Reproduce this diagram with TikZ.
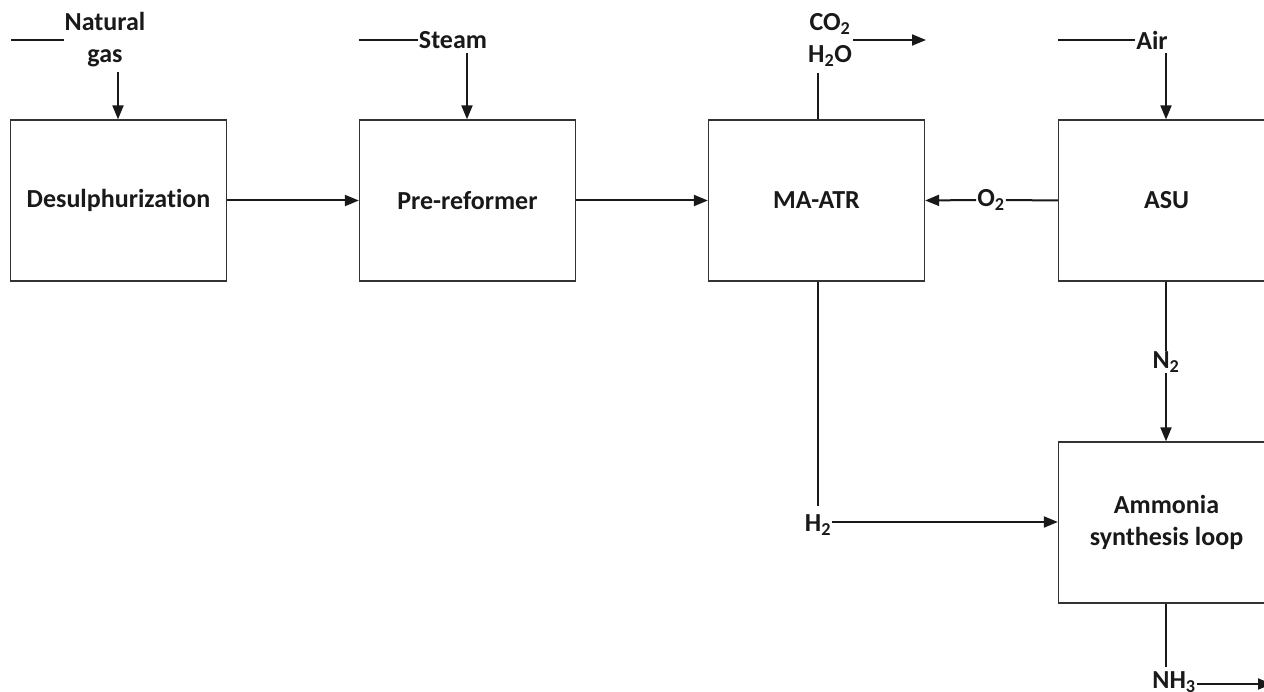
\documentclass[tikz,border=0pt]{standalone}
\usepackage{fontspec}
\setmainfont{Carlito}[Ligatures={NoCommon,NoContextual},Contextuals=NoAlternate]
\usetikzlibrary{arrows.meta}
\begin{document}
\begin{tikzpicture}[x=1pt,y=-1pt,
  box/.style={draw=black!80,line width=1.3pt,minimum width=216pt,minimum height=161pt,inner sep=0pt},
  lbl/.style={font=\fontsize{26}{33}\selectfont\bfseries,inner sep=1pt,align=center,text=black!90},
  flow/.style={line width=2pt,draw=black!90},
  arr/.style={flow,-{Triangle[length=14pt,width=11pt]}}]
\useasboundingbox (0,0) rectangle (1264,692);
\clip (0,0) rectangle (1264,692);
\node[box,lbl] (des) at (118.5,200.5) {Desulphurizat\kern0pt ion};
\node[box,lbl] (pre) at (467.5,200.5) {Pre-reformer};
\node[box,lbl] (atr) at (816.5,200.5) {MA-ATR};
\node[box,lbl] (asu) at (1166.5,200.5) {ASU};
\node[box,lbl] (amm) at (1166.5,522.5) {Ammonia\\[-1pt]synthesis loop};
% Natural gas
\node[lbl] (ng) at (105,40) {Natural\\[-1pt]gas};
\coordinate (ngs) at (11,40);
\draw[flow] (ngs) -- (ng.west|-ngs);
\draw[arr] (118,72) -- (des.north-|118,0);
% Steam
\node[lbl] (st) at (453,40) {Steam};
\coordinate (sts) at (359,40);
\draw[flow] (sts) -- (st.west|-sts);
\draw[arr] (467,53) -- (pre.north-|467,0);
% CO2 H2O
\node[lbl] (co) at (830,40) {CO\textsubscript{2}\\[-1pt]H\textsubscript{2}O};
\coordinate (coe) at (926,40);
\draw[flow] (atr.north-|818,0) -- (818,73);
\draw[arr] (853,40) -- (coe);
% Air
\node[lbl] (air) at (1152,40) {Air};
\coordinate (airs) at (1058,40);
\draw[flow] (airs) -- (air.west|-airs);
\draw[arr] (1166,53) -- (asu.north-|1166,0);
% main line
\draw[arr] (des.east) -- (pre.west);
\draw[arr] (pre.east) -- (atr.west);
\node[lbl] (o2) at (991,200) {O\textsubscript{2}};
\draw[flow] (asu.west) -- (o2.east);
\draw[arr] (o2.west) -- (atr.east);
% N2
\node[lbl] (n2) at (1166,362) {N\textsubscript{2}};
\draw[flow] (asu.south-|1166,0) -- (n2.north);
\draw[arr] (n2.south) -- (amm.north-|1166,0);
% H2
\node[lbl] (h2) at (818,525) {H\textsubscript{2}};
\draw[flow] (atr.south-|818,0) -- (818,506);
\draw[arr] (h2.east|-0,522) -- (amm.west|-0,522);
% NH3
\node[lbl] (nh3) at (1174,682) {NH\textsubscript{3}};
\coordinate (nh3e) at (1272,684);
\draw[flow] (amm.south-|1166,0) -- (1166,667);
\draw[arr] (nh3.east|-0,684) -- (nh3e);
\end{tikzpicture}
\end{document}
